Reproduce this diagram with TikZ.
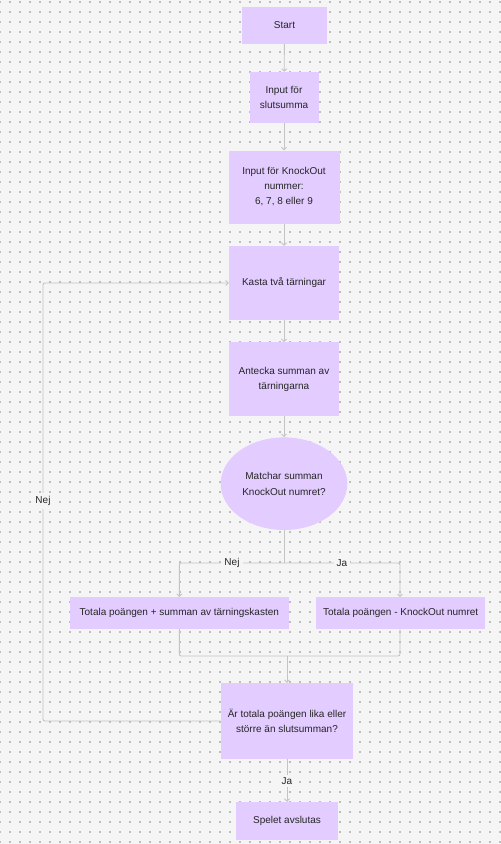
\documentclass[tikz,border=0pt]{standalone}
\usepackage{fontspec}
\setmainfont{Liberation Sans}
\usetikzlibrary{shapes.geometric,arrows.meta,positioning}
\definecolor{bgc}{HTML}{F5F5F5}
\definecolor{dotc}{HTML}{BEBEBE}
\definecolor{boxc}{HTML}{E3CCFF}
\definecolor{txtc}{HTML}{262626}
\definecolor{linec}{HTML}{C4C4C4}
\tikzset{
  box/.style={rectangle, fill=boxc, draw=none, align=center, inner sep=0pt,
    text=txtc, font=\fontsize{10}{15}\selectfont},
  ell/.style={ellipse, fill=boxc, draw=none, align=center, inner sep=0pt,
    text=txtc, font=\fontsize{10}{15.5}\selectfont},
  conn/.style={draw=linec, line width=0.9pt, rounded corners=2pt},
  arr/.style={conn, -{Straight Barb[length=2.5pt,width=5pt]}},
  lbl/.style={fill=bgc, text=txtc, font=\fontsize{10}{12}\selectfont, inner sep=3pt}
}
\begin{document}
\begin{tikzpicture}[x=1pt,y=-1pt]
\fill[bgc] (0,0) rectangle (501,844);
\useasboundingbox (0,0) rectangle (501,844);
\foreach \i in {0,...,50}{
  \foreach \j in {0,...,84}{
    \fill[dotc] (10*\i-0.55,2+10*\j-0.55) rectangle ++(1.1,1.1);
  }
}
\node[box, minimum width=85pt, minimum height=37pt] (start) at (284.5,25.5) {Start};
\node[box, minimum width=69pt, minimum height=51pt] (inp1) at (284,97.5) {Input för\\slutsumma};
\node[box, minimum width=111pt, minimum height=73pt] (inp2) at (284,187) {Input för KnockOut\\nummer:\\6, 7, 8 eller 9};
\node[box, minimum width=110pt, minimum height=74pt] (kasta) at (284,283) {Kasta två tärningar};
\node[box, minimum width=110pt, minimum height=73.5pt] (ant) at (284,379) {Antecka summan av\\tärningarna};
\node[ell, minimum width=126.6pt, minimum height=92.6pt] (match) at (284,483.7) {Matchar summan\\KnockOut numret?};
\node[box, minimum width=218.7pt, minimum height=31.7pt] (plus) at (179.3,613) {Totala poängen + summan av tärningskasten};
\node[box, minimum width=169.3pt, minimum height=31.7pt] (minus) at (400.7,613) {Totala poängen - KnockOut numret};
\node[box, minimum width=132.6pt, minimum height=75.7pt] (ar) at (287,721) {Är totala poängen lika eller\\större än slutsumman?};
\node[box, minimum width=101.7pt, minimum height=38pt] (slut) at (287,821) {Spelet avslutas};

\coordinate (split) at (284,563);
\coordinate (merge) at (287,656);

\draw[arr] (start) -- (inp1);
\draw[arr] (inp1) -- (inp1 |- inp2.north);
\draw[arr] (inp2) -- (kasta);
\draw[arr] (kasta) -- (ant);
\draw[arr] (ant) -- (ant |- match.north);
\draw[conn] (match.south) -- (split);
\draw[arr] (split) -| (plus.north);
\draw[arr] (split) -| (400,597.2);
\node[lbl] (nej1) at (232,563) {Nej};
\node[lbl] (ja1) at (342,563) {Ja};
\draw[conn] (plus.south) |- (merge);
\draw[conn] (400,628.9) |- (merge);
\draw[arr] (merge) -- (ar.north);
\draw[arr] (ar.west) -- (43,721) -- (43,283) -- (kasta.west);
\node[lbl] (nej2) at (43,501) {Nej};
\draw[arr] (ar) -- (slut);
\node[lbl] (ja2) at (287,781) {Ja};
\end{tikzpicture}
\end{document}
